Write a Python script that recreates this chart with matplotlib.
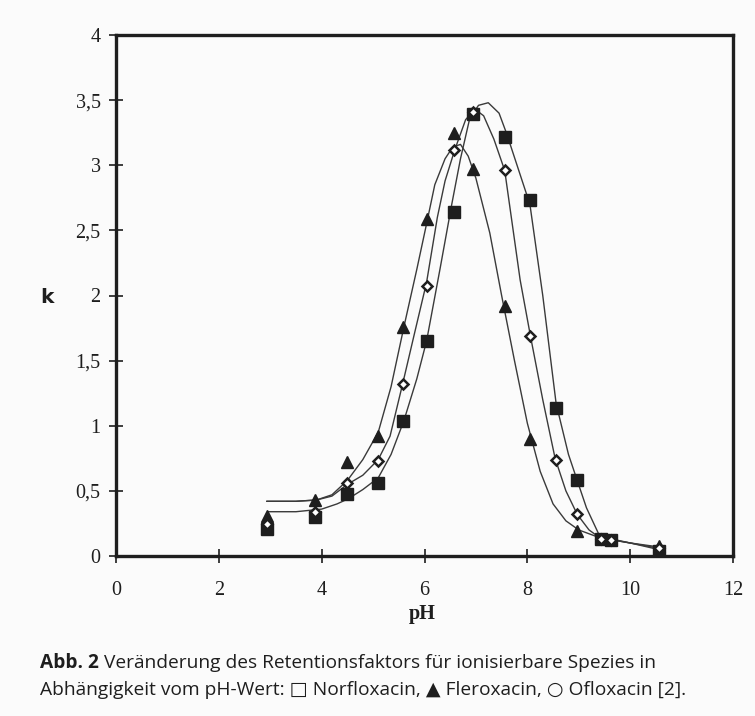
import matplotlib
matplotlib.use("Agg")
import matplotlib.pyplot as plt

# ---- measured points ----
ph_nor = [2.93, 3.87, 4.50, 5.10, 5.59, 6.04, 6.58, 6.95, 7.56, 8.06, 8.56, 8.97, 9.44, 9.63, 10.57]
k_nor = [0.21, 0.30, 0.475, 0.56, 1.04, 1.65, 2.64, 3.39, 3.22, 2.73, 1.14, 0.58, 0.13, 0.12, 0.04]

ph_fle = [2.93, 3.87, 4.50, 5.10, 5.59, 6.04, 6.58, 6.95, 7.56, 8.05, 8.97, 10.57]
k_fle = [0.31, 0.43, 0.72, 0.92, 1.76, 2.59, 3.25, 2.97, 1.92, 0.90, 0.19, 0.08]

ph_ofl = [2.93, 3.87, 4.50, 5.10, 5.59, 6.04, 6.58, 6.95, 7.56, 8.06, 8.56, 8.97, 9.44, 9.63, 10.57]
k_ofl = [0.245, 0.34, 0.56, 0.73, 1.32, 2.07, 3.12, 3.41, 2.96, 1.69, 0.74, 0.32, 0.13, 0.12, 0.06]

# ---- fitted curves ----
ph_fit_nor = [2.95, 3.5, 4.0, 4.3, 4.52, 4.8, 5.1, 5.35, 5.6, 5.85, 6.04, 6.3, 6.53, 6.7, 6.88,
              7.05, 7.24, 7.45, 7.6, 7.8, 8.05, 8.3, 8.56, 8.8, 8.97, 9.15, 9.41, 10.0, 10.55]
k_fit_nor = [0.34, 0.34, 0.36, 0.40, 0.44, 0.51, 0.60, 0.78, 1.04, 1.36, 1.65, 2.20, 2.70, 3.05, 3.36,
             3.46, 3.48, 3.40, 3.24, 3.00, 2.70, 2.00, 1.17, 0.78, 0.58, 0.37, 0.15, 0.10, 0.05]

ph_fit_fle = [2.93, 3.5, 3.9, 4.2, 4.5, 4.8, 5.1, 5.35, 5.6, 5.85, 6.04, 6.2, 6.4, 6.55, 6.7,
              6.85, 7.0, 7.27, 7.5, 7.75, 8.0, 8.25, 8.5, 8.75, 9.0, 9.41, 10.0, 10.55]
k_fit_fle = [0.42, 0.42, 0.43, 0.47, 0.58, 0.74, 0.95, 1.30, 1.76, 2.20, 2.55, 2.85, 3.05, 3.14, 3.16,
             3.07, 2.90, 2.48, 2.00, 1.50, 1.02, 0.65, 0.40, 0.27, 0.20, 0.14, 0.10, 0.07]

ph_fit_ofl = [2.93, 3.5, 3.9, 4.2, 4.5, 4.8, 5.1, 5.33, 5.58, 5.8, 6.04, 6.25, 6.4, 6.59, 6.8,
              6.98, 7.15, 7.35, 7.56, 7.86, 8.06, 8.3, 8.54, 8.75, 8.97, 9.2, 9.41, 10.0, 10.55]
k_fit_ofl = [0.42, 0.42, 0.43, 0.46, 0.55, 0.62, 0.74, 0.92, 1.33, 1.70, 2.10, 2.60, 2.88, 3.12, 3.35,
             3.43, 3.38, 3.20, 2.96, 2.12, 1.69, 1.20, 0.75, 0.50, 0.32, 0.20, 0.14, 0.10, 0.06]

x_ticks = [0, 2, 4, 6, 8, 10, 12]
y_ticks = [0, 0.5, 1, 1.5, 2, 2.5, 3, 3.5, 4]
y_tick_labels = ["0", "0,5", "1", "1,5", "2", "2,5", "3", "3,5", "4"]

caption_bold = "Abb. 2"
caption_line1 = " Veränderung des Retentionsfaktors für ionisierbare Spezies in"
caption_line2 = "Abhängigkeit vom pH-Wert: \u25a1 Norfloxacin, \u25b2 Fleroxacin, \u25cb Ofloxacin [2]."

BG = "#fbfbfb"
INK = "#1e1e1e"
LINE = "#3a3a3a"

fig = plt.figure(figsize=(7.55, 7.16), dpi=100, facecolor=BG)
ax = fig.add_axes([116 / 755, 1 - 556 / 716, (733 - 116) / 755, (556 - 35) / 716])
ax.set_facecolor(BG)

for phs, ks in [(ph_fit_nor, k_fit_nor), (ph_fit_fle, k_fit_fle), (ph_fit_ofl, k_fit_ofl)]:
    ax.plot(phs, ks, color=LINE, lw=1.0, zorder=2, solid_capstyle="round", solid_joinstyle="round")

ax.plot(ph_nor, k_nor, ls="none", marker="s", ms=8.0, mfc=INK, mec=INK, zorder=3)
ax.plot(ph_fle, k_fle, ls="none", marker="^", ms=8.6, mfc=INK, mec=INK, zorder=4)
ax.plot(ph_ofl, k_ofl, ls="none", marker="D", ms=5.6, mfc="white", mec=INK, mew=1.8, zorder=5)

ax.set_xlim(0, 12)
ax.set_ylim(0, 4)
ax.set_xticks(x_ticks)
ax.set_xticklabels([str(v) for v in x_ticks])
ax.set_yticks(y_ticks)
ax.set_yticklabels(y_tick_labels)

serif = "Liberation Serif"
for lab in ax.get_xticklabels() + ax.get_yticklabels():
    lab.set_fontfamily(serif)
    lab.set_fontsize(14.5)
    lab.set_color(INK)

ax.tick_params(axis="x", direction="inout", length=10, width=1.2, color=INK, pad=13)
ax.tick_params(axis="y", direction="inout", length=10, width=1.2, color=INK, pad=6)

for s in ax.spines.values():
    s.set_linewidth(2.4)
    s.set_color(INK)

fig.text(422 / 755, 1 - 614 / 716, "pH", fontfamily=serif, fontweight="bold",
         fontsize=14.5, color=INK, ha="center", va="center")
fig.text(47 / 755, 1 - 298 / 716, "k", fontfamily="DejaVu Sans", fontweight="bold",
         fontsize=14.5, color=INK, ha="center", va="center")

cap_fam = ["Open Sans", "DejaVu Sans"]
cap_size = 13.8
tb = fig.text(40 / 755, 1 - 663 / 716, caption_bold, fontfamily=cap_fam, fontweight="bold",
              fontsize=cap_size, color=INK, ha="left", va="center")
fig.canvas.draw()
ax.annotate(caption_line1, xy=(1, 0.5), xycoords=tb, ha="left", va="center",
            fontfamily=cap_fam, fontsize=cap_size, color=INK, annotation_clip=False)
fig.text(40 / 755, 1 - 690 / 716, caption_line2, fontfamily=cap_fam,
         fontsize=cap_size, color=INK, ha="left", va="center")

fig.savefig("out.png", dpi=100, facecolor=BG)
